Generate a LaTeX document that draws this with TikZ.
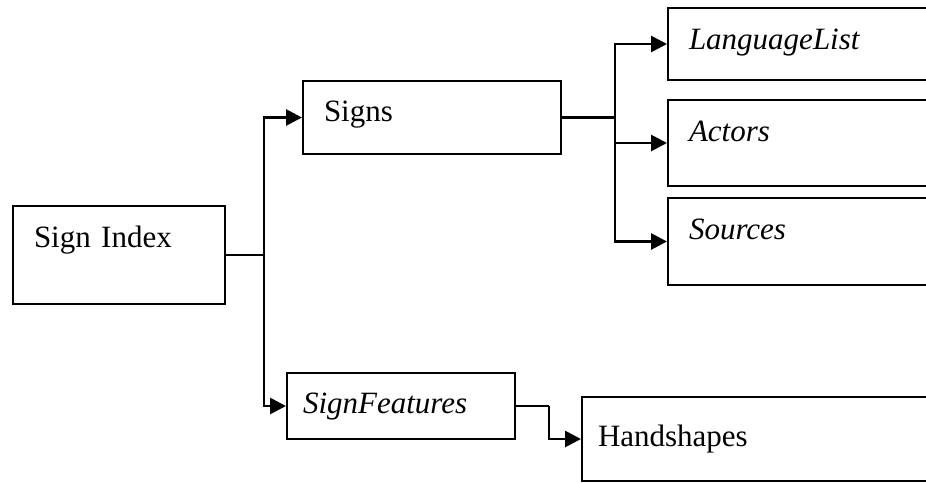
\documentclass[tikz,border=0pt]{standalone}
\usepackage{fontspec}
\setmainfont{Liberation Serif}
\usetikzlibrary{arrows.meta}
\begin{document}
\begin{tikzpicture}[x=1pt,y=-1pt,
  box/.style={draw=black, line width=2pt, rectangle, anchor=north west,
    align=left, inner ysep=0pt, font=\fontsize{31}{36}\selectfont},
  conn/.style={draw=black, line width=2.8pt},
  arr/.style={conn, -{Triangle[length=16pt,width=16pt]}}]
\useasboundingbox (0,0) rectangle (926,482);
\clip (0,0) rectangle (926,482);
\node[box, inner xsep=21pt, text width=170pt, text height=41pt, text depth=57pt] (idx) at (12,205) {Sign Index};
\node[box, inner xsep=21pt, text width=216pt, text height=40pt, text depth=33pt] (signs) at (302,80) {Signs};
\node[box, inner xsep=21pt, text width=221pt, text height=41pt, text depth=31pt] (lang) at (667,7) {\textit{LanguageList}};
\node[box, inner xsep=21pt, text width=221pt, text height=41pt, text depth=45pt] (actors) at (667,99) {\textit{Actors}};
\node[box, inner xsep=21pt, text width=221pt, text height=41pt, text depth=46pt] (sources) at (667,197) {\textit{Sources}};
\node[box, inner xsep=16pt, text width=196pt, text height=40pt, text depth=26pt] (feat) at (286,372) {\textit{SignFeatures}};
\node[box, inner xsep=16pt, text width=317pt, text height=49pt, text depth=35pt] (hand) at (581,396) {Handshapes};
\draw[conn] (idx.east) -- ++(38,0) coordinate (j1);
\draw[arr] (j1) |- (signs.west);
\draw[arr] (j1) |- (feat.west);
\draw[conn] (signs.east) -- ++(53,0) coordinate (j2);
\draw[arr] (j2) |- (lang.west);
\draw[arr] (j2) |- (actors.west);
\draw[arr] (j2) |- (sources.west);
\draw[conn] (feat.east) -- ++(33,0) coordinate (j3);
\draw[arr] (j3) |- (hand.west);
\end{tikzpicture}
\end{document}
